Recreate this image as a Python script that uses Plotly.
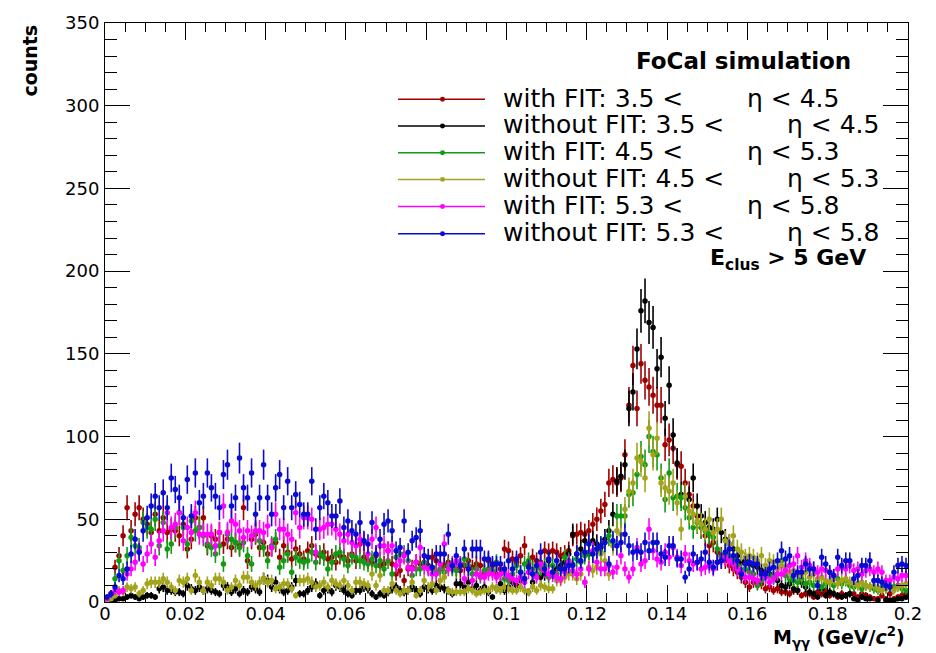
import math
import plotly.graph_objects as go

# ---------------- data (counts per 0.001 GeV/c^2 bin, 0 - 0.2) ----------------
bin_width = 0.001
n_bins = 200

red_withFIT_35_45 = [
    2, 4, 21, 28, 40, 57, 43, 53, 57, 50,
    47, 42, 53, 43, 51, 42, 44, 43, 40, 47,
    32, 38, 51, 45, 51, 34, 40, 38, 42, 35,
    38, 33, 36, 34, 57, 25, 38, 41, 33, 36,
    29, 33, 36, 27, 34, 30, 26, 32, 29, 26,
    31, 34, 29, 28, 30, 26, 27, 24, 28, 27,
    25, 29, 25, 35, 27, 25, 24, 28, 22, 23,
    31, 23, 17, 19, 13, 20, 21, 24, 23, 24,
    22, 27, 25, 20, 22, 24, 21, 20, 19, 22,
    25, 21, 23, 22, 18, 25, 22, 17, 20, 32,
    31, 26, 24, 28, 34, 23, 27, 25, 24, 31,
    30, 31, 30, 28, 29, 31, 40, 41, 42, 41,
    43, 47, 50, 55, 59, 72, 74, 72, 75, 89,
    119, 143, 117, 144, 134, 130, 125, 119, 119, 95,
    98, 93, 83, 82, 72, 65, 58, 52, 45, 40,
    34, 36, 30, 28, 25, 22, 20, 18, 15, 12,
    9, 12, 11, 11, 8, 9, 7, 8, 6, 6,
    5, 7, 7, 4, 5, 5, 3, 6, 5, 7,
    4, 5, 3, 5, 4, 5, 5, 3, 5, 4,
    3, 2, 2, 4, 2, 5, 2, 3, 4, 5,
]

black_withoutFIT_35_45 = [
    0, 1, 1, 2, 2, 3, 4, 3, 2, 3,
    4, 4, 3, 8, 9, 7, 7, 6, 6, 5,
    10, 8, 7, 9, 7, 8, 7, 6, 5, 10,
    9, 6, 8, 5, 7, 6, 9, 8, 6, 14,
    13, 9, 12, 8, 6, 7, 9, 13, 5, 5,
    7, 9, 11, 4, 7, 8, 6, 10, 9, 7,
    5, 4, 7, 7, 9, 8, 5, 3, 5, 4,
    6, 8, 9, 7, 6, 7, 9, 7, 5, 9,
    8, 7, 10, 9, 8, 7, 5, 11, 11, 9,
    12, 8, 10, 7, 9, 6, 3, 8, 11, 7,
    9, 12, 10, 13, 14, 6, 12, 17, 15, 17,
    25, 18, 20, 22, 24, 29, 41, 29, 32, 37,
    29, 37, 35, 33, 38, 43, 53, 73, 76, 83,
    117, 127, 153, 176, 182, 169, 166, 141, 148, 111,
    131, 101, 84, 65, 64, 62, 75, 58, 52, 48,
    45, 44, 50, 42, 38, 35, 32, 28, 24, 25,
    23, 22, 21, 19, 18, 17, 15, 13, 10, 9,
    11, 8, 7, 12, 9, 6, 5, 3, 8, 4,
    6, 5, 4, 3, 4, 5, 2, 1, 3, 2,
    2, 0, 1, 0, 1, 1, 1, 2, 2, 3,
]

green_withFIT_45_53 = [
    1, 4, 14, 25, 19, 28, 39, 34, 33, 48,
    45, 44, 50, 34, 48, 32, 35, 45, 54, 45,
    35, 49, 43, 45, 40, 35, 33, 29, 34, 23,
    41, 38, 36, 33, 36, 28, 23, 42, 37, 33,
    25, 34, 38, 21, 25, 29, 18, 27, 25, 24,
    25, 30, 24, 29, 27, 20, 24, 29, 30, 26,
    22, 28, 27, 25, 24, 23, 26, 22, 25, 20,
    25, 17, 27, 29, 29, 25, 16, 20, 20, 24,
    21, 20, 18, 20, 18, 22, 20, 19, 23, 26,
    22, 17, 20, 15, 19, 20, 19, 24, 17, 14,
    13, 17, 22, 18, 23, 25, 20, 17, 20, 22,
    15, 22, 17, 20, 27, 25, 23, 26, 24, 28,
    30, 29, 32, 30, 36, 40, 36, 52, 52, 52,
    65, 66, 77, 88, 83, 100, 91, 89, 75, 62,
    78, 63, 64, 63, 57, 51, 45, 48, 45, 43,
    41, 39, 32, 27, 29, 28, 26, 22, 19, 20,
    18, 17, 10, 13, 15, 16, 15, 17, 25, 16,
    14, 13, 12, 14, 11, 12, 10, 13, 9, 11,
    12, 10, 14, 11, 13, 10, 9, 11, 8, 10,
    9, 8, 7, 9, 8, 10, 9, 10, 8, 7,
]

olive_withoutFIT_45_53 = [
    1, 2, 4, 7, 6, 9, 8, 9, 5, 7,
    11, 12, 12, 12, 14, 12, 9, 7, 13, 12,
    14, 7, 16, 12, 7, 12, 10, 14, 14, 12,
    7, 9, 13, 10, 15, 15, 12, 10, 12, 14,
    12, 13, 8, 9, 11, 11, 8, 4, 13, 13,
    14, 12, 9, 10, 12, 9, 13, 11, 10, 13,
    10, 7, 12, 12, 11, 10, 17, 10, 16, 7,
    7, 11, 7, 5, 7, 7, 12, 4, 7, 13,
    9, 11, 7, 13, 15, 7, 6, 6, 6, 6,
    8, 7, 5, 6, 7, 7, 9, 8, 7, 9,
    8, 7, 7, 9, 7, 6, 9, 7, 10, 9,
    8, 8, 13, 13, 15, 17, 17, 14, 17, 12,
    21, 19, 21, 29, 25, 17, 34, 43, 41, 56,
    67, 72, 87, 85, 75, 105, 89, 99, 72, 69,
    67, 72, 60, 44, 64, 55, 53, 49, 47, 44,
    50, 42, 44, 50, 37, 35, 40, 32, 30, 27,
    28, 27, 25, 28, 22, 25, 24, 20, 22, 21,
    18, 19, 17, 16, 18, 15, 17, 14, 15, 13,
    12, 14, 11, 13, 14, 12, 11, 10, 12, 10,
    9, 10, 8, 7, 8, 9, 7, 9, 10, 11,
]

magenta_withFIT_53_58 = [
    2, 5, 7, 6, 7, 17, 20, 24, 31, 23,
    29, 35, 27, 37, 43, 54, 45, 47, 54, 37,
    45, 42, 54, 41, 41, 41, 41, 34, 42, 58,
    42, 49, 47, 43, 39, 43, 40, 43, 43, 42,
    46, 33, 53, 44, 44, 41, 38, 54, 45, 51,
    51, 50, 30, 44, 45, 47, 47, 44, 41, 37,
    41, 36, 34, 38, 36, 29, 38, 45, 34, 34,
    31, 34, 22, 25, 28, 21, 20, 24, 33, 21,
    20, 17, 17, 23, 35, 20, 23, 25, 23, 14,
    20, 13, 17, 16, 15, 17, 17, 15, 17, 18,
    16, 14, 13, 15, 12, 18, 17, 15, 23, 19,
    17, 16, 15, 14, 18, 24, 19, 17, 20, 12,
    20, 31, 24, 20, 20, 22, 18, 21, 28, 20,
    15, 20, 33, 23, 25, 44, 31, 26, 24, 30,
    27, 33, 27, 22, 29, 25, 23, 24, 20, 21,
    22, 20, 24, 25, 27, 25, 23, 20, 18, 15,
    15, 14, 13, 16, 15, 12, 14, 17, 17, 19,
    22, 23, 28, 21, 25, 22, 20, 18, 20, 19,
    18, 16, 20, 21, 20, 22, 19, 20, 17, 19,
    20, 18, 20, 18, 13, 13, 15, 14, 16, 16,
]

blue_withoutFIT_53_58 = [
    3, 5, 9, 16, 14, 20, 29, 38, 30, 43,
    51, 58, 64, 57, 66, 57, 75, 68, 63, 51,
    74, 52, 78, 60, 64, 78, 69, 64, 57, 77,
    83, 58, 63, 87, 69, 63, 78, 53, 63, 83,
    63, 53, 69, 77, 57, 73, 57, 65, 59, 53,
    53, 73, 44, 57, 64, 60, 52, 52, 61, 45,
    49, 43, 41, 48, 37, 35, 48, 29, 38, 47,
    49, 43, 31, 33, 49, 30, 37, 39, 43, 28,
    27, 21, 29, 29, 29, 41, 22, 28, 22, 32,
    20, 32, 32, 32, 26, 26, 23, 23, 23, 20,
    25, 20, 26, 18, 14, 21, 17, 22, 30, 20,
    26, 18, 25, 20, 20, 22, 22, 29, 25, 30,
    35, 29, 32, 34, 36, 23, 37, 34, 36, 41,
    34, 30, 31, 30, 36, 31, 36, 36, 29, 27,
    34, 34, 26, 26, 15, 20, 29, 24, 26, 30,
    24, 21, 24, 25, 30, 32, 28, 25, 17, 23,
    24, 23, 23, 17, 17, 20, 21, 25, 31, 26,
    28, 16, 18, 18, 23, 20, 20, 10, 27, 23,
    18, 16, 27, 22, 25, 25, 14, 16, 22, 22,
    25, 13, 13, 12, 10, 9, 18, 22, 23, 22,
]

series_values = [
    red_withFIT_35_45, black_withoutFIT_35_45, green_withFIT_45_53,
    olive_withoutFIT_45_53, magenta_withFIT_53_58, blue_withoutFIT_53_58,
]
series_colors = ["#a00000", "#000000", "#129a12", "#a3a31c", "#ff00ff", "#0a0ad2"]
legend_left = [
    "with FIT: 3.5 &lt;", "without FIT: 3.5 &lt;", "with FIT: 4.5 &lt;",
    "without FIT: 4.5 &lt;", "with FIT: 5.3 &lt;", "without FIT: 5.3 &lt;",
]
legend_eta = ["η &lt; 4.5", "η &lt; 4.5", "η &lt; 5.3", "η &lt; 5.3", "η &lt; 5.8", "η &lt; 5.8"]

x_tick_vals = [0, 0.02, 0.04, 0.06, 0.08, 0.1, 0.12, 0.14, 0.16, 0.18, 0.2]
x_tick_text = ["0", "0.02", "0.04", "0.06", "0.08", "0.1", "0.12", "0.14", "0.16", "0.18", "0.2"]
y_tick_vals = [0, 50, 100, 150, 200, 250, 300, 350]
y_tick_text = ["0", "50", "100", "150", "200", "250", "300", "350"]

bin_centers = [(i + 0.5) * bin_width for i in range(n_bins)]

# ---------------- figure ----------------
FONT = "DejaVu Sans"
fig = go.Figure()

for vals, col in zip(series_values, series_colors):
    y = [v if v > 0 else None for v in vals]
    err = [math.sqrt(v) if v > 0 else 0 for v in vals]
    fig.add_trace(go.Scatter(
        x=bin_centers, y=y, mode="markers",
        marker=dict(color=col, size=5.5, line=dict(width=0)),
        error_y=dict(type="data", array=err, visible=True, color=col,
                     thickness=1.6, width=0),
        showlegend=False, hoverinfo="skip",
    ))

# plot frame in pixels: x 105..908, y 17..602
L, R, T, B = 105, 908, 17, 602
W, H = R - L, B - T


def px(xp):
    return (xp - L) / W


def py(yp):
    return (B - yp) / H


shapes = []
annotations = []
row_y = [94, 121, 148, 175, 202.5, 230]
for i, (col, lt, et) in enumerate(zip(series_colors, legend_left, legend_eta)):
    yy = py(row_y[i])
    shapes.append(dict(type="line", xref="paper", yref="paper",
                       x0=px(398), x1=px(485), y0=yy, y1=yy,
                       line=dict(color=col, width=1.5)))
    shapes.append(dict(type="circle", xref="paper", yref="paper",
                       x0=px(440), x1=px(445), y0=py(row_y[i] + 2.5), y1=py(row_y[i] - 2.5),
                       fillcolor=col, line=dict(color=col, width=0)))
    annotations.append(dict(text=lt, xref="paper", yref="paper", x=px(501), y=py(row_y[i] - 1),
                            xanchor="left", yanchor="middle", showarrow=False,
                            font=dict(family=FONT, size=25, color="black")))
    ex = 745 if lt.startswith("with FIT") else 785
    annotations.append(dict(text=et, xref="paper", yref="paper", x=px(ex), y=py(row_y[i] - 1),
                            xanchor="left", yanchor="middle", showarrow=False,
                            font=dict(family=FONT, size=25, color="black")))

annotations.append(dict(text="<b>FoCal simulation</b>", xref="paper", yref="paper",
                        x=px(853), y=py(55), xanchor="right", yanchor="middle", showarrow=False,
                        font=dict(family=FONT, size=23, color="black")))
annotations.append(dict(text="<b>E<sub>clus</sub> &gt; 5 GeV</b>", xref="paper", yref="paper",
                        x=px(868), y=py(256), xanchor="right", yanchor="middle", showarrow=False,
                        font=dict(family=FONT, size=22, color="black")))
annotations.append(dict(text="<b>counts</b>", xref="paper", yref="paper",
                        x=px(30), y=py(55), xanchor="center", yanchor="middle", showarrow=False,
                        textangle=-90, font=dict(family=FONT, size=19, color="black")))
annotations.append(dict(text="<b>M<sub>γγ</sub> (GeV/<i>c</i><sup>2</sup>)</b>", xref="paper",
                        yref="paper", x=px(907), y=py(638), xanchor="right", yanchor="middle",
                        showarrow=False, font=dict(family=FONT, size=19, color="black")))

fig.update_layout(
    width=936, height=653,
    margin=dict(l=L, r=936 - R, t=T, b=653 - B, pad=0),
    paper_bgcolor="white", plot_bgcolor="white",
    showlegend=False,
    shapes=shapes, annotations=annotations,
    font=dict(family=FONT, size=18, color="black"),
    xaxis=dict(range=[0, 0.2], tickmode="array", tickvals=x_tick_vals, ticktext=x_tick_text,
               ticks="inside", ticklen=17, tickwidth=1, tickcolor="black",
               minor=dict(ticks="inside", ticklen=9, dtick=0.005, tickcolor="black", tickwidth=1),
               showline=True, linecolor="black", linewidth=1, mirror="allticks",
               showgrid=False, zeroline=False, ticklabelstandoff=-5,
               tickfont=dict(family=FONT, size=18, color="black")),
    yaxis=dict(range=[0, 350], tickmode="array", tickvals=y_tick_vals, ticktext=y_tick_text,
               ticks="inside", ticklen=25, tickwidth=1, tickcolor="black",
               minor=dict(ticks="inside", ticklen=12, dtick=10, tickcolor="black", tickwidth=1),
               showline=True, linecolor="black", linewidth=1, mirror="allticks",
               showgrid=False, zeroline=False, ticklabelstandoff=1,
               tickfont=dict(family=FONT, size=18, color="black")),
)

fig.write_html("out.html")
